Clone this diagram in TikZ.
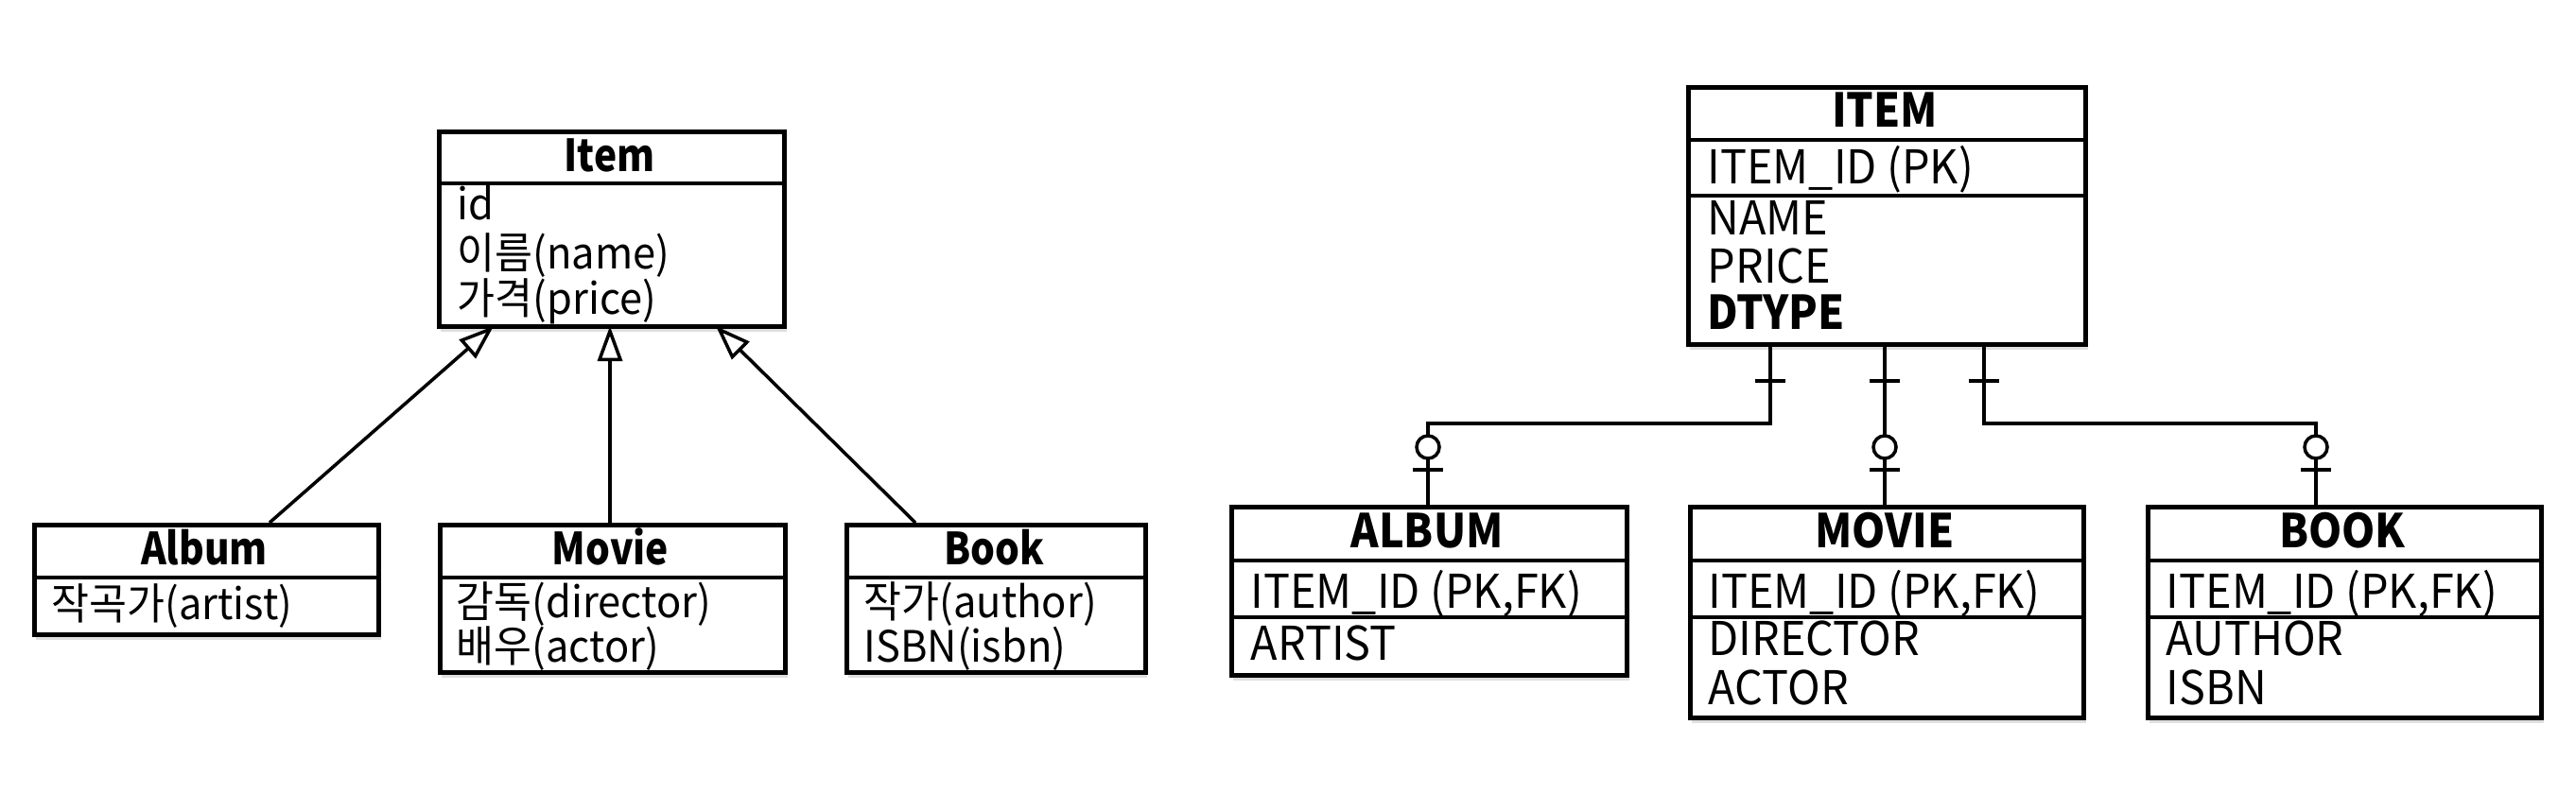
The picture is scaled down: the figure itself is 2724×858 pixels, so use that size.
\documentclass[tikz,border=0pt]{standalone}
\usepackage{fontspec}
\setmainfont{Noto Sans CJK KR}[FakeStretch=0.95]
\newfontfamily\ttlA{Noto Sans CJK KR}[FakeStretch=0.91]
\newfontfamily\ttlB{Noto Sans CJK KR}[FakeStretch=0.87]
\usetikzlibrary{arrows.meta,shadows}
\begin{document}
\begin{tikzpicture}[x=0.01cm,y=-0.01cm,
  box/.style={draw=black, line width=1.3pt, fill=white, rectangle, inner sep=0pt, anchor=north west,
    drop shadow={shadow xshift=0.02cm, shadow yshift=-0.06cm, opacity=0.25}},
  sepline/.style={line width=1.3pt},
  ttl/.style={font=\fontsize{14pt}{16pt}\ttlA\bfseries, anchor=base, inner sep=0pt},
  lttl/.style={font=\fontsize{13.3pt}{16pt}\ttlB\bfseries, anchor=base, inner sep=0pt},
  txt/.style={font=\fontsize{13pt}{16pt}\selectfont, anchor=base west, inner sep=0pt},
  ertxt/.style={font=\fontsize{14pt}{16pt}\selectfont, anchor=base west, inner sep=0pt},
  inh/.style={line width=1pt, -{Triangle[fill=white, length=0.37cm, width=0.26cm, line width=1pt]}},
  conn/.style={line width=1pt},
  ring/.style={circle, draw=black, line width=1pt, fill=white, minimum size=0.24cm, inner sep=0pt}
]
\useasboundingbox (0,0) rectangle (2724,858);
\fill[white] (0,0) rectangle (2724,858);

% ---------- UML side ----------
\node[box, minimum width=3.65cm, minimum height=2.06cm] (item) at (462,137) {};
\draw[sepline] (462,194) -- (827,194);
\node[lttl] (itemT) at (644.5,182) {Item};
\node[txt] (itemA) at (483,233) {id};
\node[txt] (itemB) at (483,285) {이름(name)};
\node[txt] (itemC) at (483,333) {가격(price)};

\node[box, minimum width=3.64cm, minimum height=1.16cm] (album) at (34,553) {};
\draw[sepline] (34,611) -- (398,611);
\node[lttl] (albumT) at (216,597) {Album};
\node[txt] (albumA) at (54,655) {작곡가(artist)};

\node[box, minimum width=3.65cm, minimum height=1.56cm] (movie) at (463,553) {};
\draw[sepline] (463,611) -- (828,611);
\node[lttl] (movieT) at (645.5,597) {Movie};
\node[txt] (movieA) at (482,653) {감독(director)};
\node[txt] (movieB) at (482,700) {배우(actor)};

\node[box, minimum width=3.16cm, minimum height=1.56cm] (book) at (893,553) {};
\draw[sepline] (893,611) -- (1209,611);
\node[lttl] (bookT) at (1051,597) {Book};
\node[txt] (bookA) at (913,653) {작가(author)};
\node[txt] (bookB) at (913,700) {ISBN(isbn)};

\coordinate (albumUp) at (285,553);
\coordinate (movieUp) at (645,553);
\coordinate (bookUp) at (968,553);
\coordinate (tipA) at (522,345);
\coordinate (tipM) at (645,345);
\coordinate (tipB) at (757,345);
\draw[inh] (albumUp) -- (tipA);
\draw[inh] (movieUp) -- (tipM);
\draw[inh] (bookUp) -- (tipB);

% ---------- ER side ----------
\node[box, minimum width=4.2cm, minimum height=2.72cm] (eitem) at (1783,90) {};
\draw[sepline] (1783,148) -- (2203,148);
\draw[sepline] (1783,207) -- (2203,207);
\node[ttl] (eitemT) at (1993,135) {ITEM};
\node[ertxt] (eitemA) at (1805,195) {ITEM\_ID (PK)};
\node[ertxt] (eitemB) at (1805,249) {NAME};
\node[ertxt] (eitemC) at (1805,300) {PRICE};
\node[ertxt] (eitemD) at (1805,349) {\ttlA\bfseries DTYPE};

\node[box, minimum width=4.18cm, minimum height=1.78cm] (ealbum) at (1300,534) {};
\draw[sepline] (1300,593) -- (1718,593);
\draw[sepline] (1300,653) -- (1718,653);
\node[ttl] (ealbumT) at (1509,580) {ALBUM};
\node[ertxt] (ealbumA) at (1322,643) {ITEM\_ID (PK,FK)};
\node[ertxt] (ealbumB) at (1322,698) {ARTIST};

\node[box, minimum width=4.16cm, minimum height=2.23cm] (emovie) at (1785,534) {};
\draw[sepline] (1785,593) -- (2201,593);
\draw[sepline] (1785,653) -- (2201,653);
\node[ttl] (emovieT) at (1993,580) {MOVIE};
\node[ertxt] (emovieA) at (1806,643) {ITEM\_ID (PK,FK)};
\node[ertxt] (emovieB) at (1806,693) {DIRECTOR};
\node[ertxt] (emovieC) at (1806,745) {ACTOR};

\node[box, minimum width=4.16cm, minimum height=2.23cm] (ebook) at (2269,534) {};
\draw[sepline] (2269,593) -- (2685,593);
\draw[sepline] (2269,653) -- (2685,653);
\node[ttl] (ebookT) at (2477,580) {BOOK};
\node[ertxt] (ebookA) at (2290,643) {ITEM\_ID (PK,FK)};
\node[ertxt] (ebookB) at (2290,693) {AUTHOR};
\node[ertxt] (ebookC) at (2290,745) {ISBN};

% connectors
\coordinate (sA) at (1872,362);
\coordinate (sM) at (1993,362);
\coordinate (sB) at (2098,362);
\coordinate (eA) at (1510,534);
\coordinate (eM) at (1993,534);
\coordinate (eB) at (2449,534);
\draw[conn] (sA) -- (1872,448) -| (eA);
\draw[conn] (sM) -- (eM);
\draw[conn] (sB) -- (2098,448) -| (eB);
\foreach \x in {1872,1993,2098} \draw[conn] (\x-16,403) -- (\x+16,403);
\foreach \x in {1510,1993,2449} {
  \draw[conn] (\x-16,497) -- (\x+16,497);
  \node[ring] at (\x,473) {};
}
\end{tikzpicture}
\end{document}
